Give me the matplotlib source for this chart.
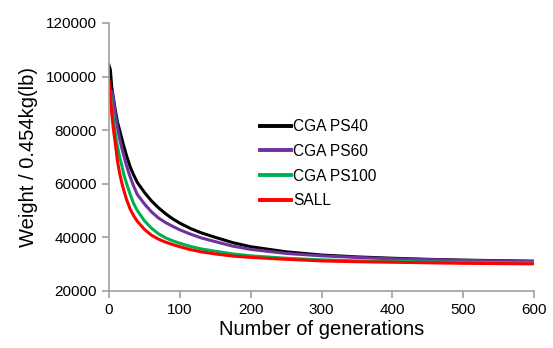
import matplotlib
matplotlib.use('Agg')
import matplotlib.pyplot as plt

plt.rcParams['font.family'] = ['Liberation Sans', 'DejaVu Sans']

gens = [0, 2, 4, 6, 8, 10, 12, 15, 18, 21, 25, 30, 35, 40, 50, 60, 70, 80, 90,
        100, 115, 130, 150, 175, 200, 250, 300, 350, 400, 450, 500, 550, 600]

cga_ps40 = [104300, 102500, 96000, 92500, 89000, 86000, 83000, 80100, 77000, 74000,
            70300, 66300, 63200, 60500, 56800, 53600, 51000, 48800, 46900, 45300,
            43300, 41700, 40000, 38000, 36500, 34600, 33400, 32700, 32200, 31800,
            31500, 31300, 31100]
cga_ps60 = [95000, 95000, 94500, 92000, 88000, 84500, 81000, 77000, 73500, 70500,
            66500, 62500, 59000, 56000, 52500, 49500, 47200, 45500, 44100, 42800,
            41200, 39800, 38400, 36700, 35500, 34000, 33100, 32500, 32000, 31700,
            31400, 31200, 31000]
cga_ps100 = [94000, 93500, 90000, 85000, 80500, 77000, 74000, 70000, 67000, 63500,
             60000, 56000, 52500, 50000, 46200, 43400, 41300, 39800, 38700, 37800,
             36600, 35700, 34800, 33800, 33100, 32200, 31600, 31200, 31000, 30800,
             30700, 30600, 30500]
sall = [98700, 93000, 86000, 81000, 77000, 73000, 68500, 64000, 60500, 57500,
        54000, 50500, 48000, 46000, 43000, 40800, 39300, 38200, 37300, 36500,
        35400, 34600, 33800, 33000, 32500, 31800, 31200, 30900, 30700, 30500,
        30300, 30200, 30100]

labels = ['CGA PS40', 'CGA PS60', 'CGA PS100', 'SALL']
colors = ['#000000', '#7030a0', '#00b050', '#ff0000']

fig = plt.figure(figsize=(5.53, 3.48), dpi=100)
ax = fig.add_axes([0.197, 0.164, 0.769, 0.770])

for ys, lab, c in zip([cga_ps40, cga_ps60, cga_ps100, sall], labels, colors):
    ax.plot(gens, ys, color=c, lw=2.2, label=lab)

ax.set_xlim(0, 600)
ax.set_ylim(20000, 120000)
ax.set_xticks(range(0, 601, 100))
ax.set_yticks(range(20000, 120001, 20000))

for s in ['top', 'right']:
    ax.spines[s].set_visible(False)
for s in ['left', 'bottom']:
    ax.spines[s].set_color('#a0a0a0')
    ax.spines[s].set_linewidth(1.2)
ax.tick_params(colors='#a0a0a0', labelcolor='black', labelsize=11,
               length=5, width=1.2)

ax.set_xlabel('Number of generations', fontsize=14.5, labelpad=2)
ax.set_ylabel('Weight / 0.454kg(lb)', fontsize=14.5, labelpad=6)

leg = ax.legend(loc='upper left', bbox_to_anchor=(0.341, 0.664), frameon=False,
                fontsize=11.2, handlelength=2.0, handletextpad=0.1,
                labelspacing=0.62, borderaxespad=0)
for h in leg.get_lines():
    h.set_linewidth(2.8)

fig.savefig('out.png', dpi=100)
